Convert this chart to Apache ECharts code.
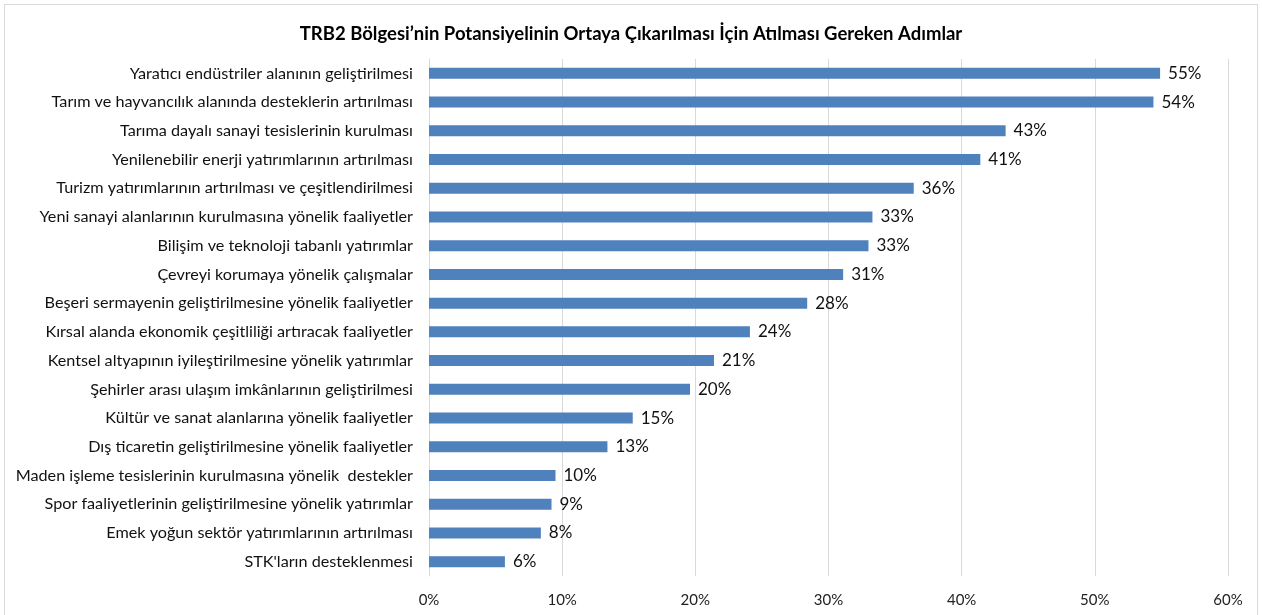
<!doctype html>
<html lang="tr">
<head>
<meta charset="UTF-8"/>
<title>TRB2 Bölgesi</title>
<script src="https://cdn.jsdelivr.net/npm/echarts@6/dist/echarts.min.js"></script>
<style>
html,body{margin:0;padding:0;background:#fff;}
#frame{position:absolute;left:4px;top:4px;width:1254px;height:620px;border:1px solid #d9d9d9;box-sizing:border-box;}
#chart{position:absolute;left:0;top:0;width:1262px;height:615px;}
</style>
</head>
<body>
<div id="frame"></div>
<div id="chart"></div>
<script>
// kategoriler (yukaridan asagiya)
var categories = [
  'Yaratıcı endüstriler alanının geliştirilmesi',
  'Tarım ve hayvancılık alanında desteklerin artırılması',
  'Tarıma dayalı sanayi tesislerinin kurulması',
  'Yenilenebilir enerji yatırımlarının artırılması',
  'Turizm yatırımlarının artırılması ve çeşitlendirilmesi',
  'Yeni sanayi alanlarının kurulmasına yönelik faaliyetler',
  'Bilişim ve teknoloji tabanlı yatırımlar',
  'Çevreyi korumaya yönelik çalışmalar',
  'Beşeri sermayenin geliştirilmesine yönelik faaliyetler',
  'Kırsal alanda ekonomik çeşitliliği artıracak faaliyetler',
  'Kentsel altyapının iyileştirilmesine yönelik yatırımlar',
  'Şehirler arası ulaşım imkânlarının geliştirilmesi',
  'Kültür ve sanat alanlarına yönelik faaliyetler',
  'Dış ticaretin geliştirilmesine yönelik faaliyetler',
  'Maden işleme tesislerinin kurulmasına yönelik  destekler',
  'Spor faaliyetlerinin geliştirilmesine yönelik yatırımlar',
  'Emek yoğun sektör yatırımlarının artırılması',
  "STK'ların desteklenmesi"
];

// yuzde degerler (cubuk uzunlugundan okundu)
var values = [54.9, 54.4, 43.3, 41.4, 36.4, 33.3, 33.0, 31.1, 28.4, 24.1, 21.4, 19.6, 15.3, 13.4, 9.5, 9.2, 8.4, 5.7];

var xTicks = [0, 10, 20, 30, 40, 50, 60];

var myChart = echarts.init(document.getElementById('chart'));

var option = {
  animation: false,
  textStyle: { fontFamily: 'Lato' },
  title: {
    text: 'TRB2 Bölgesi’nin Potansiyelinin Ortaya Çıkarılması İçin Atılması Gereken Adımlar',
    left: 'center',
    top: 20,
    textStyle: { fontFamily: 'Lato', fontSize: 18.5, fontWeight: 'bold', color: '#000' }
  },
  grid: { left: 429, right: 34, top: 59, bottom: 39, containLabel: false },
  xAxis: {
    type: 'value',
    min: xTicks[0],
    max: xTicks[xTicks.length - 1],
    interval: 10,
    axisLine: { show: false },
    axisTick: { show: false },
    splitLine: { lineStyle: { color: '#d9d9d9', width: 1 } },
    axisLabel: {
      color: '#222', fontSize: 15, margin: 17,
      formatter: function (v) { return v + '%'; }
    }
  },
  yAxis: {
    type: 'category',
    inverse: true,
    data: categories,
    axisLine: { show: true, lineStyle: { color: '#d9d9d9' } },
    axisTick: { show: false },
    axisLabel: { color: '#111', fontSize: 16.2, margin: 16 }
  },
  series: [{
    type: 'bar',
    data: values,
    barWidth: 11,
    itemStyle: { color: '#4f81bd' },
    label: {
      show: true,
      position: 'right',
      distance: 8,
      color: '#111',
      fontSize: 17,
      formatter: function (p) { return Math.round(p.value) + '%'; }
    }
  }]
};

myChart.setOption(option);
</script>
</body>
</html>
